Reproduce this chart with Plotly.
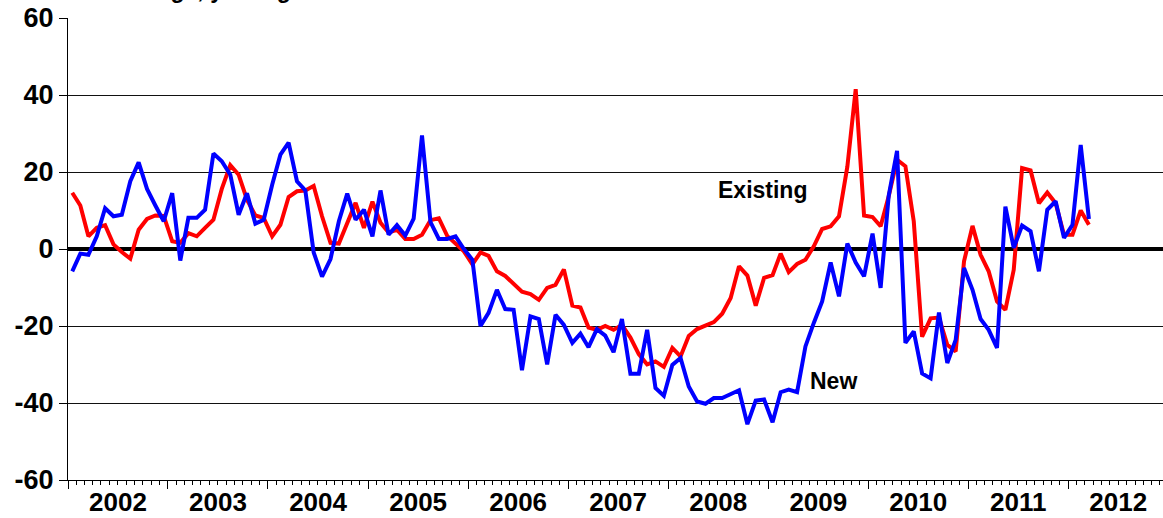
import pandas as pd
import plotly.graph_objects as go

# Monthly data, Jan 2002 .. Mar 2012 (% change, year ago)
start_month = "2002-01-01"
n_months = 123

existing = [
    14.6, 11.3, 3.3, 5.5, 6.2, 1.2, -0.8, -2.5, 5.0, 7.8, 8.7, 8.6,
    2.0, 1.6, 4.1, 3.3, 5.5, 7.6, 15.6, 21.8, 19.3, 12.8, 8.7, 8.1,
    3.3, 6.3, 13.5, 15.0, 15.2, 16.4, 8.5, 1.6, 1.4, 6.8, 12.0, 5.5,
    12.3, 6.8, 4.3, 5.0, 2.6, 2.6, 3.7, 7.5, 8.0, 3.4, 1.5, -0.6,
    -4.0, -0.9, -1.8, -5.8, -7.0, -8.9, -11.1, -11.7, -13.2, -10.1, -9.3, -5.3,
    -14.7, -15.2, -20.4, -21.0, -20.0, -21.0, -19.7, -23.0, -27.3, -30.0, -29.2, -30.6,
    -25.7, -27.9, -22.6, -20.8, -19.9, -19.0, -16.8, -12.7, -4.5, -6.9, -14.7, -7.5,
    -6.8, -1.2, -6.0, -3.9, -2.8, 0.7, 5.2, 5.9, 8.5, 21.4, 41.5, 8.7,
    8.3, 5.9, 13.7, 23.2, 21.5, 7.2, -22.8, -18.0, -17.8, -24.9, -26.6, -3.2,
    6.0, -1.5, -5.8, -13.6, -15.8, -5.4, 21.0, 20.4, 11.9, 14.7, 11.9, 3.7,
    3.7, 10.0, 6.3,
]

new = [
    -5.8, -1.2, -1.5, 3.3, 10.6, 8.5, 8.9, 17.6, 22.5, 15.6, 11.3, 7.2,
    14.5, -3.0, 8.1, 8.1, 10.2, 24.8, 22.8, 19.3, 8.9, 14.5, 6.6, 7.6,
    16.7, 24.5, 27.6, 17.6, 15.2, -0.9, -7.2, -2.6, 7.2, 14.4, 7.6, 10.2,
    3.3, 15.2, 3.7, 6.2, 3.5, 7.9, 29.5, 7.0, 2.6, 2.6, 3.3, 0.0,
    -2.8, -20.0, -16.6, -10.6, -15.6, -15.8, -31.5, -17.5, -18.2, -30.0, -17.1, -19.7,
    -24.4, -22.0, -25.5, -20.8, -22.5, -26.8, -18.2, -32.4, -32.4, -21.0, -36.1, -38.1,
    -30.1, -28.3, -35.7, -39.6, -40.2, -38.7, -38.7, -37.6, -36.7, -45.5, -39.4, -39.1,
    -45.0, -37.2, -36.5, -37.2, -25.3, -19.2, -13.6, -3.5, -12.3, 1.4, -3.5, -7.1,
    4.0, -10.1, 13.8, 25.5, -24.4, -21.4, -32.3, -33.6, -16.5, -29.6, -23.6, -4.9,
    -10.6, -18.2, -21.0, -25.7, 11.0, 0.3, 6.1, 4.6, -5.8, 10.2, 12.4, 2.9,
    6.3, 27.0, 7.8,
]

y_ticks = [-60, -40, -20, 0, 20, 40, 60]
y_ticktext = ["-60", "-40", "-20", "0", "20", "40", "60"]

labels = {"Existing": ("2008-12-10", 15.3), "New": ("2009-08-28", -34.4)}
title_text = "% change, year ago"

month_starts = pd.date_range(start_month, periods=n_months + 1, freq="MS")
dates = [a + (b - a) / 2 for a, b in zip(month_starts[:-1], month_starts[1:])]

FONT = "Liberation Sans, Arial, sans-serif"

fig = go.Figure()
fig.add_trace(go.Scatter(x=dates, y=existing, mode="lines", name="Existing",
                         line=dict(color="#FF0000", width=4)))
fig.add_trace(go.Scatter(x=dates, y=new, mode="lines", name="New",
                         line=dict(color="#0000FF", width=4)))

for txt, (xd, yv) in labels.items():
    fig.add_annotation(x=xd, y=yv, text=txt, showarrow=False,
                       font=dict(family=FONT, size=23, color="black", weight="bold"),
                       xanchor="center", yanchor="middle")

fig.add_annotation(xref="paper", yref="paper", x=0.0183, y=1.06, text=title_text,
                   showarrow=False, xanchor="left", yanchor="middle",
                   font=dict(family=FONT, size=23, color="black", weight="bold"))

fig.update_layout(
    width=1163, height=518,
    margin=dict(l=68, r=0, t=18, b=38, autoexpand=False),
    paper_bgcolor="white", plot_bgcolor="white",
    showlegend=False,
    xaxis=dict(
        type="date", range=["2002-01-01", "2012-12-12"], automargin=False,
        tick0="2002-01-01", dtick="M12", ticklabelmode="period", tickformat="%Y",
        ticks="outside", ticklen=8, tickwidth=1, tickcolor="black",
        ticklabelstandoff=-9,
        minor=dict(dtick="M1", ticks="outside", ticklen=4, tickwidth=1, tickcolor="black", showgrid=False),
        showgrid=False, showline=True, linecolor="black", linewidth=1,
        tickfont=dict(family=FONT, size=26, color="black", weight="bold"),
    ),
    yaxis=dict(
        range=[-60, 60], tickmode="array", tickvals=y_ticks, ticktext=y_ticktext,
        automargin=False,
        ticks="outside", ticklen=8, tickwidth=1, tickcolor="black",
        showgrid=True, gridcolor="#111111", gridwidth=1,
        zeroline=True, zerolinecolor="black", zerolinewidth=4,
        showline=True, linecolor="black", linewidth=1,
        tickfont=dict(family=FONT, size=27, color="black", weight="bold"),
    ),
)

fig.write_html("out.html")
